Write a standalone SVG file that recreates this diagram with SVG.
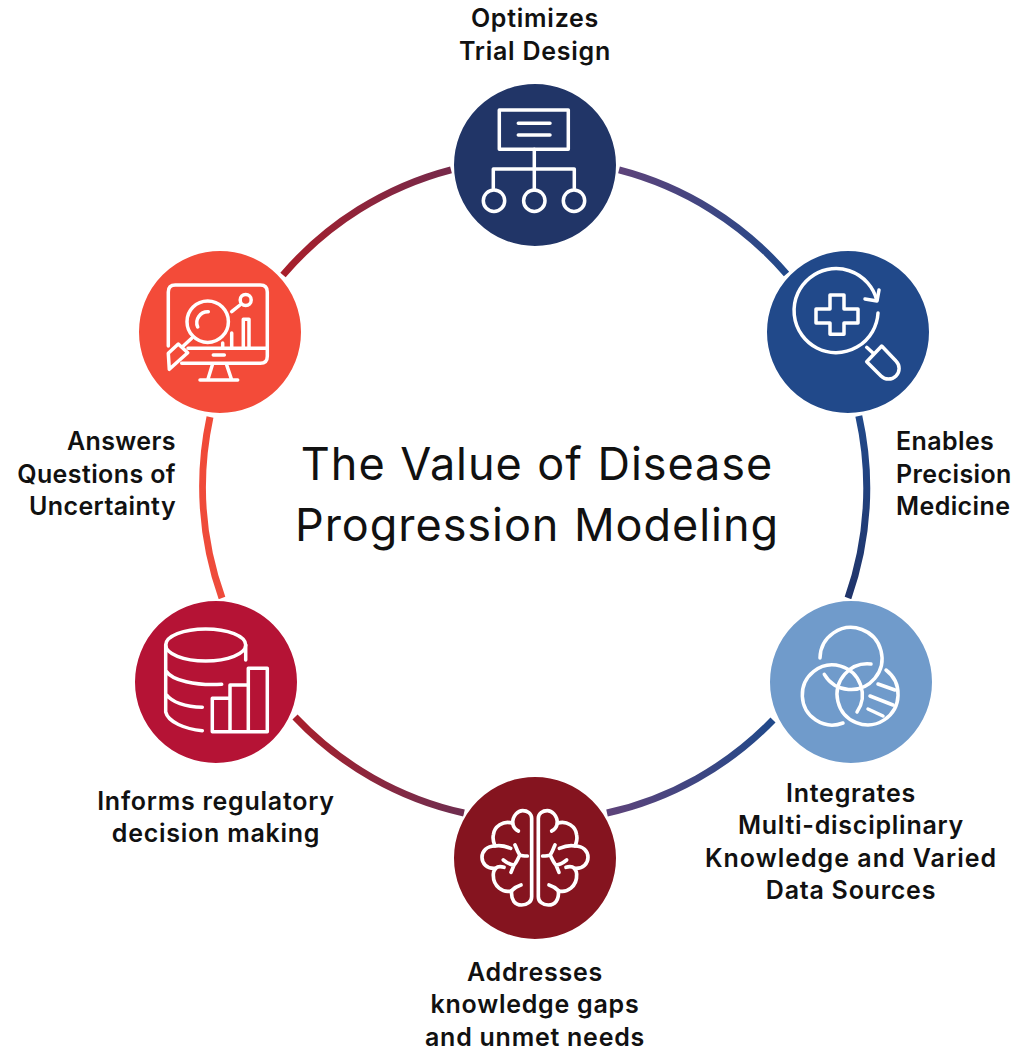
<svg xmlns="http://www.w3.org/2000/svg" width="1015" height="1051" viewBox="0 0 1015 1051">
<style>
text{font-family:"Inter","Liberation Sans",sans-serif;fill:#111;}
.l{font-size:25px;font-weight:600;text-anchor:middle;letter-spacing:.75px;}
.s{text-anchor:start;letter-spacing:.4px;}
.e{text-anchor:end;letter-spacing:.4px;}
.t{font-size:45px;font-weight:400;text-anchor:middle;word-spacing:1px;letter-spacing:.95px;}
.r{fill:none;stroke-width:7;}
.n{stroke:#fff;stroke-width:2;}
.i{fill:none;stroke:#fff;stroke-width:3.500;stroke-linecap:round;stroke-linejoin:round;}
.b{fill:none;stroke:#fff;stroke-width:11;stroke-linecap:round;stroke-linejoin:round;}
</style>
<defs>
<linearGradient id="g1" gradientUnits="userSpaceOnUse" x1="620" y1="170" x2="787" y2="272"><stop offset="0" stop-color="#5d437a"/><stop offset="1" stop-color="#21498a"/></linearGradient>
<linearGradient id="g2" gradientUnits="userSpaceOnUse" x1="858" y1="416" x2="850" y2="598"><stop offset="0" stop-color="#21498a"/><stop offset="1" stop-color="#20346a"/></linearGradient>
<linearGradient id="g3" gradientUnits="userSpaceOnUse" x1="777" y1="735" x2="608" y2="812"><stop offset="0" stop-color="#21498a"/><stop offset="1" stop-color="#5d437a"/></linearGradient>
<linearGradient id="g4" gradientUnits="userSpaceOnUse" x1="463" y1="812" x2="295" y2="717"><stop offset="0" stop-color="#6f2e50"/><stop offset="1" stop-color="#a81f2b"/></linearGradient>
<linearGradient id="g5" gradientUnits="userSpaceOnUse" x1="212" y1="598" x2="208" y2="416"><stop offset="0" stop-color="#ee4b3b"/><stop offset="1" stop-color="#f04a38"/></linearGradient>
<linearGradient id="g6" gradientUnits="userSpaceOnUse" x1="283" y1="273" x2="451" y2="170"><stop offset="0" stop-color="#a81f2b"/><stop offset="1" stop-color="#76294a"/></linearGradient>
<g id="brain-half" class="b"><path d="M275 145V380C275 395 262 405 245 405C225 405 212 390 215 362C190 370 158 350 160 312C160 305 163 300 167 295C140 298 126 280 126 262C126 243 140 228 165 228C158 212 158 205 160 195C162 170 190 150 218 160C218 135 235 122 248 122C262 122 275 130 275 145Z"/><path d="M218 160C220 170 228 180 235 183M165 228C180 225 200 230 212 235M167 295C172 290 180 288 192 292M215 362C222 355 232 348 243 345M225 225C232 240 235 250 240 255C245 258 255 258 262 258M238 258C232 270 228 280 222 285C212 285 200 278 190 270M222 285L213 307"/></g>
</defs>
<g id="connectors">
<path class="r" stroke="url(#g1)" d="M619 169.900A331 331 0 0 1 786.500 274"/>
<path class="r" stroke="url(#g2)" d="M858.800 416A331 331 0 0 1 848 598"/>
<path class="r" stroke="url(#g3)" d="M773 720A331 331 0 0 1 607 813"/>
<path class="r" stroke="url(#g4)" d="M464 813A331 331 0 0 1 295 717"/>
<path class="r" stroke="url(#g5)" d="M222 598A331 331 0 0 1 210 417"/>
<path class="r" stroke="url(#g6)" d="M283 275A331 331 0 0 1 451 169.800"/>
</g>
<g id="title"><text class="t" x="537" y="480">The Value of Disease</text><text class="t" x="537" y="541">Progression Modeling</text></g>
<g id="node-trial">
<circle class="n" cx="535" cy="165" r="82" fill="#213567"/>
<g class="i"><rect x="499.300" y="110" width="69" height="39.300"/><path d="M518.300 123.300H550M518.300 135H550M534.300 149.300V190M493.300 188V169H574.300V188"/><circle cx="494" cy="200.700" r="10.700"/><circle cx="534.300" cy="200.700" r="10.700"/><circle cx="574" cy="200.700" r="10.700"/></g>
<text class="l" x="535" y="27">Optimizes</text><text class="l" x="535" y="60">Trial Design</text>
</g>
<g id="node-precision">
<circle class="n" cx="848" cy="332" r="82" fill="#21498a"/>
<g class="i"><path d="M878 313A42 42 0 1 1 876.700 300"/><path d="M865 299L877 301L879 290"/><path d="M830 295H844V309H858V323H844V334.300H830V323H816V309H830Z"/><path d="M866.700 347.300L873 353"/><path d="M881.700 346L896 361A10.500 10.500 0 0 1 881 376L866.700 361.700Z"/></g>
<text class="l s" x="896" y="450">Enables</text><text class="l s" x="896" y="483">Precision</text><text class="l s" x="896" y="515">Medicine</text>
</g>
<g id="node-integrates">
<circle class="n" cx="851" cy="682" r="82" fill="#709bcb"/>
<g class="i"><path d="M820 658A31 31 0 1 1 824.300 674.300"/><path d="M843 723A30 30 0 1 1 857 712"/><path d="M886 670A30.500 30.500 0 1 1 871 664"/><path d="M878 684L895 690M870 696L893 705M868 709L883 716"/></g>
<text class="l" x="851" y="802">Integrates</text><text class="l" x="851" y="834">Multi-disciplinary</text><text class="l" x="851" y="867" style="letter-spacing:1px">Knowledge and Varied</text><text class="l" x="851" y="899">Data Sources</text>
</g>
<g id="node-gaps">
<circle class="n" cx="535" cy="858" r="82" fill="#85141f"/>
<use href="#brain-half" transform="translate(440 770) scale(.3333)"/>
<use href="#brain-half" transform="translate(440 770) scale(.3333) translate(570 0) scale(-1 1)"/>
<text class="l" x="535" y="981">Addresses</text><text class="l" x="535" y="1013">knowledge gaps</text><text class="l" x="535" y="1046">and unmet needs</text>
</g>
<g id="node-regulatory">
<circle class="n" cx="216" cy="682" r="82" fill="#b51335"/>
<g class="i"><ellipse cx="205.700" cy="645" rx="40" ry="16"/><path d="M165.700 645V712C168 722 185 729 202.300 730.700M245.700 645V660M166.700 671.700C172 680 195 686 221.700 684.300M166.700 695C172 702 185 707 202.300 707.300"/><path d="M212.300 731.700V698.300H230V731.700ZM230 731.700V685H248.300V731.700ZM248.300 731.700V668.300H267.300V731.700Z"/></g>
<text class="l" x="216" y="810">Informs regulatory</text><text class="l" x="216" y="842">decision making</text>
</g>
<g id="node-uncertainty">
<circle class="n" cx="220" cy="332" r="82" fill="#f34b39"/>
<g class="i"><path d="M168.300 346V292Q168.300 285 175.300 285H260.300Q267.300 285 267.300 292V356.300Q267.300 363.300 260.300 363.300H181.700M188 348.300H267.300M213.300 355H224.300M212.300 365L207.700 380M226.700 365L231.700 380M200 380H237.700"/><circle cx="207.700" cy="321.700" r="20.700"/><path d="M197.700 327A11 11 0 0 1 208.300 311.700"/><path d="M191.700 338.300L183.300 346M178.300 344L187.700 352.700L169.300 369.300L168.300 353.300Z"/><circle cx="245.700" cy="300" r="5.500"/><path d="M240 305L231.700 311.700M222.700 343V348M231.700 333V348M243.300 348V319.300H249V348"/></g>
<text class="l e" x="176" y="450">Answers</text><text class="l e" x="176" y="483">Questions of</text><text class="l e" x="176" y="515">Uncertainty</text>
</g>
</svg>
